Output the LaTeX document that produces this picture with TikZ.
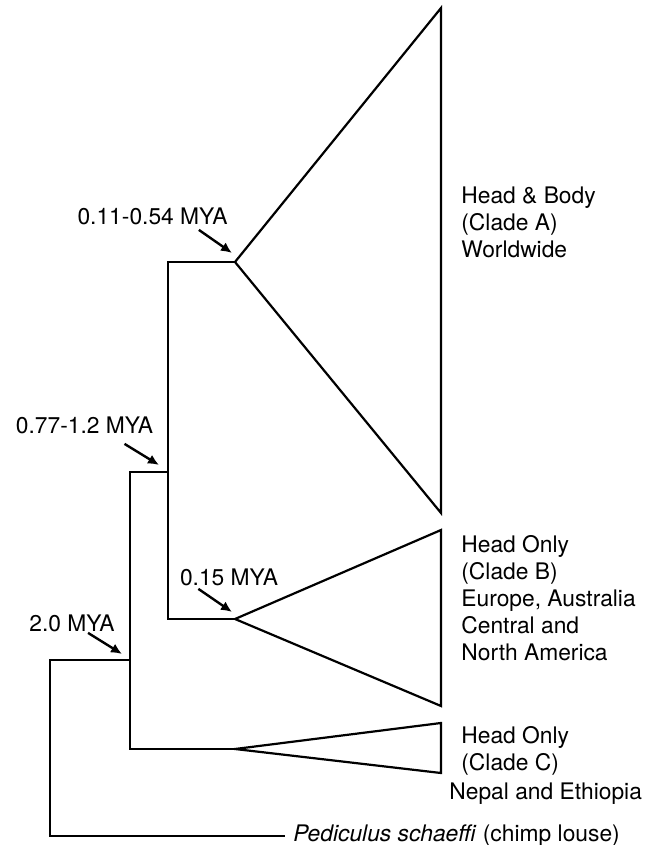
\documentclass[tikz,border=0pt]{standalone}
\usepackage{fontspec}
\setmainfont{TeX Gyre Heros}
\usetikzlibrary{arrows.meta}
\tikzset{
  branch/.style={line width=1.1pt, line join=miter},
  datearrow/.style={-{Latex[length=5.5pt,width=5pt]}, line width=1.2pt},
  datelabel/.style={inner sep=0pt},
  cladelabel/.style={anchor=north west, align=left, inner sep=0pt}
}
\begin{document}
\begin{tikzpicture}[x=0.5pt,y=-0.5pt,font=\fontsize{11.4}{13.5}\selectfont]
  \useasboundingbox (0,0) rectangle (655,845);
  % junctions of the tree
  \coordinate (root) at (50,660);
  \coordinate (ingroup) at (130,660);
  \coordinate (headnode) at (168,472);
  \coordinate (apexA) at (235,262);
  \coordinate (apexB) at (235,619);
  \coordinate (apexC) at (235,749);
  % Clade A
  \coordinate (topA) at (441,8); \coordinate (botA) at (441,513);
  \draw[branch] (apexA) -- (topA) -- (botA) -- cycle;
  \node[cladelabel] (cladeA) at (461,186) {Head \& Body\\(Clade A)\\Worldwide};
  % Clade B
  \coordinate (topB) at (441,530); \coordinate (botB) at (441,706);
  \draw[branch] (apexB) -- (topB) -- (botB) -- cycle;
  \node[cladelabel] (cladeB) at (461,535) {Head Only\\(Clade B)\\Europe, Australia\\Central and\\North America};
  % Clade C
  \coordinate (topC) at (441,723); \coordinate (botC) at (441,773);
  \draw[branch] (apexC) -- (topC) -- (botC) -- cycle;
  \node[cladelabel] (cladeC) at (461,726) {Head Only\\(Clade C)};
  \node[cladelabel] (regionC) at (449,782) {Nepal and Ethiopia};
  % outgroup
  \node[anchor=west, inner sep=4pt] (outgroup) at (285,836) {\textit{Pediculus schaeffi} (chimp louse)};
  % branches
  \draw[branch] (apexA) -| (headnode) |- (apexB);
  \draw[branch] (headnode) -| (ingroup) |- (apexC);
  \draw[branch] (ingroup) -| (root) |- (outgroup.west);
  % divergence dates
  \node[datelabel] (dateA) at (152.5,216) {0.11-0.54 MYA};
  \draw[datearrow] ([shift={(-29,5)}]dateA.south east) -- ([shift={(-3,-9)}]apexA);
  \node[datelabel] (dateB) at (84.5,425) {0.77-1.2 MYA};
  \draw[datearrow] ([shift={(-29,10)}]dateB.south east) -- ([shift={(-9,-7)}]headnode);
  \node[datelabel] (dateC) at (229,577) {0.15 MYA};
  \draw[datearrow] ([shift={(-80,3)}]dateC.south east) -- ([shift={(-3,-7)}]apexB);
  \node[datelabel] (dateD) at (72,623) {2.0 MYA};
  \draw[datearrow] ([shift={(-27,1)}]dateD.south east) -- ([shift={(-8,-6)}]ingroup);
\end{tikzpicture}
\end{document}
